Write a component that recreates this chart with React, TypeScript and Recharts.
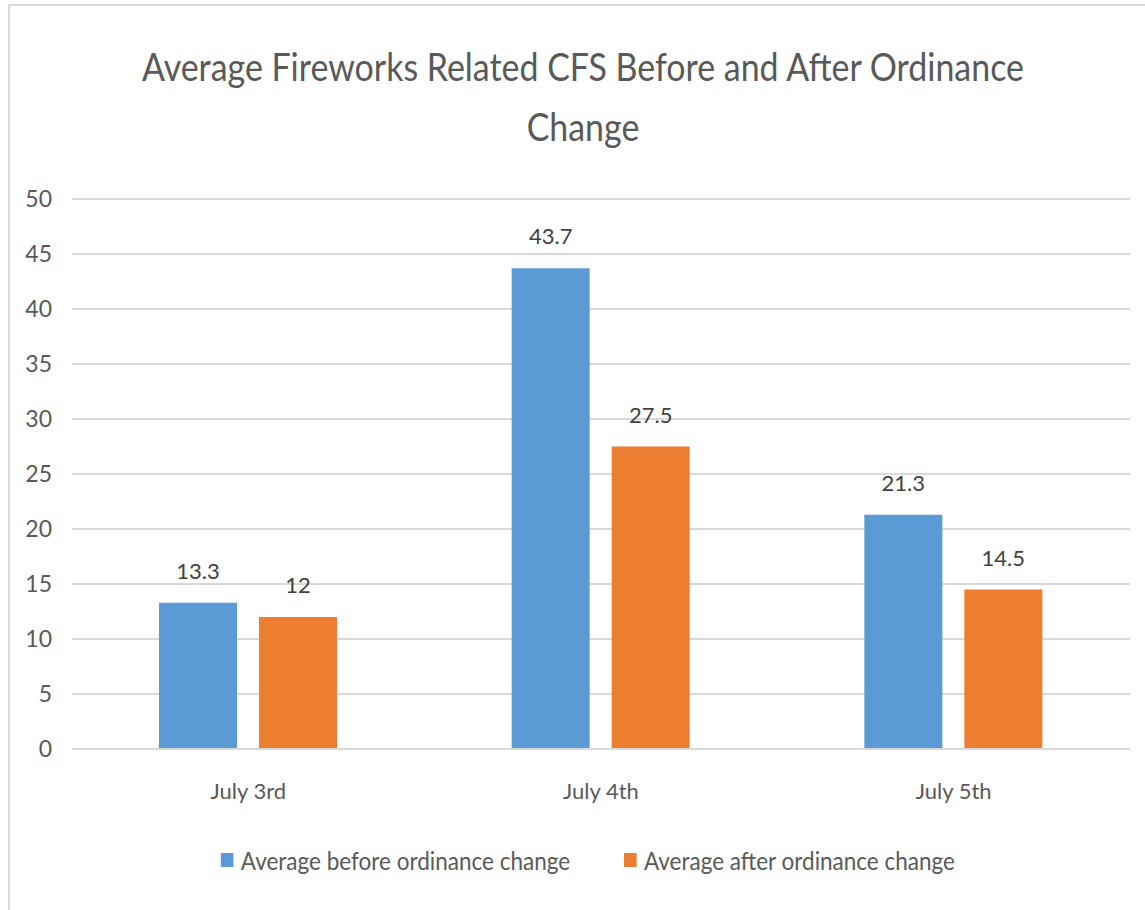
import React from 'react'
import { BarChart, Bar, XAxis, YAxis, CartesianGrid, LabelList } from 'recharts'

const days = ['July 3rd', 'July 4th', 'July 5th']
const beforeChange = [13.3, 43.7, 21.3]
const afterChange = [12, 27.5, 14.5]
const yTicks = [0, 5, 10, 15, 20, 25, 30, 35, 40, 45, 50]

const seriesNames = ['Average before ordinance change', 'Average after ordinance change']
const colors = ['#5B9BD5', '#ED7D31']

const font = 'Lato, "Open Sans", sans-serif'

const rows = days.map((day, i) => ({ day, before: beforeChange[i], after: afterChange[i] }))

function LegendBox() {
  return (
    <div
      style={{
        position: 'absolute',
        left: 0,
        top: 845,
        width: 1176,
        display: 'flex',
        justifyContent: 'center',
        gap: 60,
        fontFamily: font,
        fontSize: 25,
        color: '#595959',
        transform: 'scaleX(0.9)',
        transformOrigin: '588px 0',
      }}
    >
      {seriesNames.map((name, i) => (
        <div key={name} style={{ display: 'flex', alignItems: 'center', gap: 8 }}>
          <span style={{ width: 14, height: 14, background: colors[i], display: 'inline-block' }} />
          <span>{name}</span>
        </div>
      ))}
    </div>
  )
}

export default function App() {
  return (
    <div style={{ position: 'absolute', left: 0, top: 0, width: 1145, height: 910, background: '#fff' }}>
      <div
        style={{
          position: 'absolute',
          left: 8,
          top: 4,
          right: 0,
          bottom: 0,
          borderLeft: '2px solid #d9d9d9',
          borderTop: '2px solid #d9d9d9',
        }}
      />
      <div
        style={{
          position: 'absolute',
          left: 0,
          top: 36,
          width: 1166,
          textAlign: 'center',
          fontFamily: font,
          fontSize: 39,
          lineHeight: '60px',
          color: '#595959',
          transform: 'scaleX(0.87)',
          transformOrigin: '583px 0',
        }}
      >
        Average Fireworks Related CFS Before and After Ordinance
        <br />
        Change
      </div>
      <div style={{ position: 'absolute', left: 0, top: 0 }}>
        <BarChart
          width={1145}
          height={910}
          data={rows}
          margin={{ top: 199, right: 15, bottom: 70, left: 12 }}
          barSize={78}
          barGap={22}
        >
          <CartesianGrid vertical={false} stroke="#d9d9d9" strokeWidth={2} />
          <XAxis
            dataKey="day"
            axisLine={{ stroke: '#d9d9d9', strokeWidth: 2 }}
            tickLine={false}
            tickSize={0}
            tickMargin={34}
            height={91}
            tick={{ fill: '#595959', fontSize: 22, fontFamily: font }}
          />
          <YAxis
            domain={[0, 50]}
            ticks={yTicks}
            axisLine={false}
            tickLine={false}
            tickSize={0}
            tickMargin={20}
            width={60}
            tick={{ fill: '#595959', fontSize: 23, fontFamily: font }}
          />
          <Bar dataKey="before" name={seriesNames[0]} fill={colors[0]} isAnimationActive={false}>
            <LabelList dataKey="before" position="top" offset={24} fill="#404040" fontSize={22} fontFamily={font} />
          </Bar>
          <Bar dataKey="after" name={seriesNames[1]} fill={colors[1]} isAnimationActive={false}>
            <LabelList dataKey="after" position="top" offset={24} fill="#404040" fontSize={22} fontFamily={font} />
          </Bar>
        </BarChart>
      </div>
      <LegendBox />
    </div>
  )
}
